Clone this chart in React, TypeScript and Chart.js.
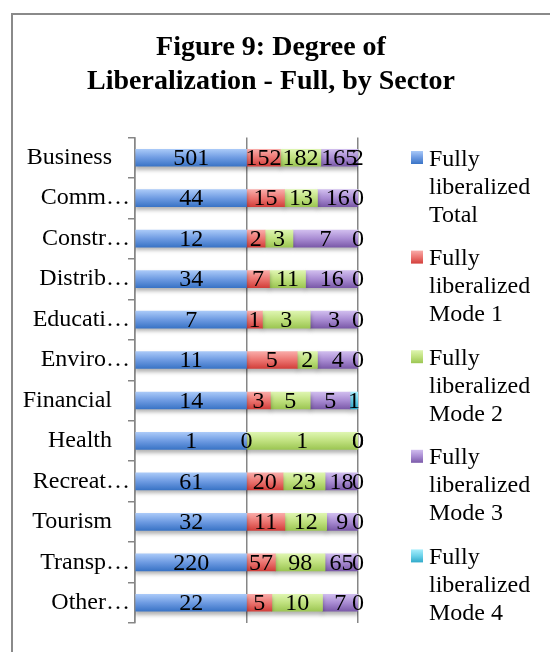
import React, { useEffect, useRef } from 'react';
import { Chart, registerables } from 'chart.js';

Chart.register(...registerables);

// ---- data ----
const tickLabels = ['Business   ', 'Comm…', 'Constr…', 'Distrib…', 'Educati…', 'Enviro…', 'Financial   ', 'Health   ', 'Recreat…', 'Tourism   ', 'Transp…', 'Other…'];
const seriesNames = ['Fully liberalized Total', 'Fully liberalized Mode 1', 'Fully liberalized Mode 2', 'Fully liberalized Mode 3', 'Fully liberalized Mode 4'];
const totalValues = [501, 44, 12, 34, 7, 11, 14, 1, 61, 32, 220, 22];
const mode1Values = [152, 15, 2, 7, 1, 5, 3, 0, 20, 11, 57, 5];
const mode2Values = [182, 13, 3, 11, 3, 2, 5, 1, 23, 12, 98, 10];
const mode3Values = [165, 16, 7, 16, 3, 4, 5, 0, 18, 9, 65, 7];
const mode4Values = [2, 0, 0, 0, 0, 0, 1, 0, 0, 0, 0, 0];
const titleLines = ['Figure 9: Degree of', 'Liberalization - Full, by Sector'];

// ---- styles ----
const W = 550;
const H = 652;
const FONT = "'Liberation Serif', 'Times New Roman', serif";
const BAR_T = 17;
const palette = [
  ['#a9c9f8', '#6e9be2', '#3a74c6'],
  ['#f9aba8', '#ec7571', '#d23f3b'],
  ['#def5b0', '#c0e17f', '#9cc653'],
  ['#d0bdee', '#a98cd3', '#7b5aa9'],
  ['#a8eefc', '#6bd2ea', '#30a9c9'],
];

function grad(ctx: CanvasRenderingContext2D, y0: number, y1: number, cols: string[]) {
  const g = ctx.createLinearGradient(0, y0, 0, y1);
  g.addColorStop(0, cols[0]);
  g.addColorStop(0.5, cols[1]);
  g.addColorStop(1, cols[2]);
  return g;
}

const allSeries = [totalValues, mode1Values, mode2Values, mode3Values, mode4Values];

export default function App() {
  const ref = useRef<HTMLCanvasElement | null>(null);

  useEffect(() => {
    const canvas = ref.current;
    if (!canvas) return;

    const rowSums = tickLabels.map((_, i) => allSeries.reduce((s, arr) => s + arr[i], 0));

    const datasets = allSeries.map((arr, si) => ({
      label: seriesNames[si],
      data: arr.map((v, i) => (rowSums[i] ? (v / rowSums[i]) * 100 : 0)),
      raw: arr,
      borderWidth: 0,
      barThickness: BAR_T,
      backgroundColor: (c: any) => {
        const chart = c.chart;
        const y = chart.scales && chart.scales.y;
        if (!y || c.type !== 'data') return palette[si][1];
        const cy = y.getPixelForValue(c.dataIndex);
        if (!isFinite(cy)) return palette[si][1];
        return grad(chart.ctx, cy - BAR_T / 2, cy + BAR_T / 2, palette[si]);
      },
    }));

    const framePlugin = {
      id: 'frame',
      beforeDraw(chart: any) {
        const ctx = chart.ctx;
        ctx.save();
        ctx.fillStyle = '#ffffff';
        ctx.fillRect(0, 0, W, H);
        ctx.strokeStyle = '#8a8a8a';
        ctx.lineWidth = 2;
        ctx.strokeRect(12, 14, 700, 800);
        ctx.restore();
      },
    };

    const shadowPlugin = {
      id: 'barShadow',
      beforeDatasetsDraw(chart: any) {
        const ctx = chart.ctx;
        ctx.save();
        ctx.shadowColor = 'rgba(0,0,0,0.3)';
        ctx.shadowBlur = 4;
        ctx.shadowOffsetX = 0;
        ctx.shadowOffsetY = 3;
      },
      afterDatasetsDraw(chart: any) {
        chart.ctx.restore();
      },
    };

    const overlayPlugin = {
      id: 'overlay',
      afterDraw(chart: any) {
        const ctx = chart.ctx;
        ctx.save();
        // title
        ctx.fillStyle = '#000';
        ctx.textAlign = 'center';
        ctx.textBaseline = 'alphabetic';
        ctx.font = `bold 28px ${FONT}`;
        ctx.fillText(titleLines[0], 271, 54.5);
        ctx.fillText(titleLines[1], 271, 88.5);

        // value labels
        ctx.font = `24px ${FONT}`;
        ctx.textBaseline = 'middle';
        chart.data.datasets.forEach((ds: any, di: number) => {
          const meta = chart.getDatasetMeta(di);
          meta.data.forEach((el: any, i: number) => {
            const cx = (el.x + el.base) / 2;
            ctx.fillText(String(ds.raw[i]), cx, el.y + 1);
          });
        });

        // legend
        ctx.textAlign = 'left';
        ctx.textBaseline = 'alphabetic';
        const maxW = 115;
        seriesNames.forEach((name, si) => {
          const top = 151 + si * 99.6;
          ctx.fillStyle = grad(ctx, top, top + 13, palette[si]);
          ctx.fillRect(411, top, 12, 13);
          ctx.fillStyle = '#000';
          const words = name.split(' ');
          const lines: string[] = [];
          let cur = '';
          words.forEach((w) => {
            const t = cur ? cur + ' ' + w : w;
            if (cur && ctx.measureText(t).width > maxW) {
              lines.push(cur);
              cur = w;
            } else cur = t;
          });
          if (cur) lines.push(cur);
          lines.forEach((ln, li) => ctx.fillText(ln, 429, top + 14.5 + li * 28));
        });
        ctx.restore();
      },
    };

    const chart = new Chart(canvas, {
      type: 'bar',
      data: { labels: tickLabels, datasets: datasets as any },
      options: {
        responsive: false,
        animation: false,
        indexAxis: 'y',
        layout: { padding: { left: 12, right: W - 358, top: 137.5, bottom: H - 623 } },
        plugins: {
          legend: { display: false },
          title: { display: false },
          tooltip: { enabled: false },
        },
        scales: {
          x: {
            stacked: true,
            min: 0,
            max: 100,
            ticks: { display: false, stepSize: 50 },
            grid: { color: '#868686', lineWidth: 1.5, drawTicks: false },
            border: { display: false },
            afterFit: (s: any) => { s.height = 0; },
          },
          y: {
            stacked: true,
            ticks: { color: '#000', font: { family: FONT, size: 24 }, padding: -2, autoSkip: false },
            grid: { drawOnChartArea: false, drawTicks: true, tickLength: 7, color: '#868686', lineWidth: 1.5, offset: true },
            border: { display: true, color: '#868686', width: 1.5 },
            afterFit: (s: any) => { s.width = 135 - 12; },
          },
        },
      } as any,
      plugins: [framePlugin, shadowPlugin, overlayPlugin],
    });
    // second pass so the per-bar gradients are resolved with the laid-out scales
    chart.update();

    return () => chart.destroy();
  }, []);

  return (
    <div style={{ position: 'fixed', left: 0, top: 0, width: W, height: H, overflow: 'hidden', background: '#fff' }}>
      <canvas ref={ref} width={W} height={H} style={{ display: 'block', width: W, height: H }} />
    </div>
  );
}
